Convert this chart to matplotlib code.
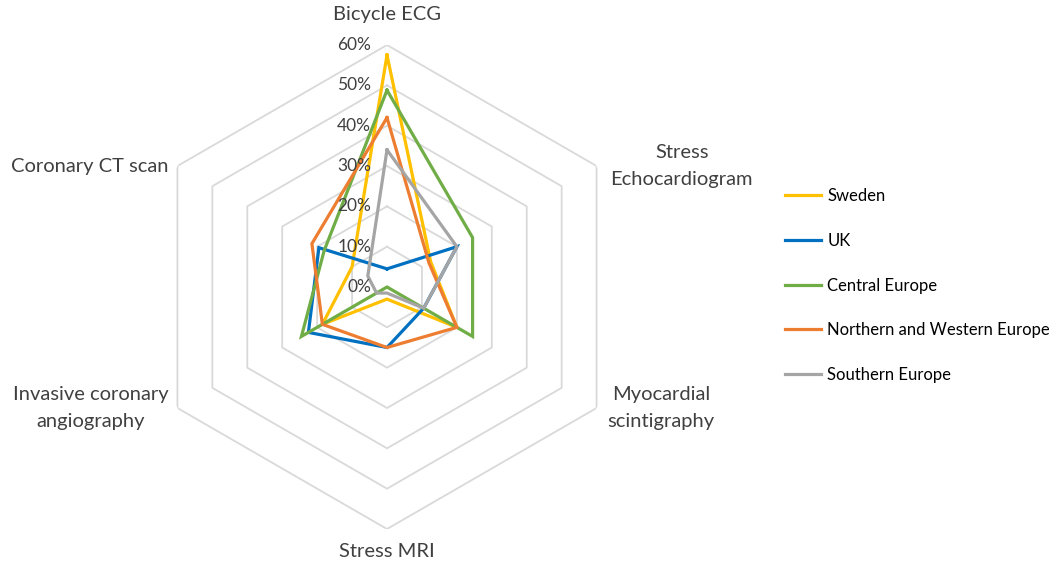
import numpy as np
import matplotlib
matplotlib.use("Agg")
import matplotlib.pyplot as plt

plt.rcParams["font.family"] = ["Lato", "DejaVu Sans"]

# ===================== 数据 =====================
categories = ["Bicycle ECG", "Stress\nEchocardiogram", "Myocardial\nscintigraphy",
              "Stress MRI", "Invasive coronary\nangiography", "Coronary CT scan"]
sweden = [57.5, 12.5, 20, 3, 18.5, 10]
uk = [4.5, 20, 10.5, 15, 22.5, 19.5]
central_europe = [48.8, 24.5, 24.5, 0, 24.5, 18]
north_west_europe = [42, 12, 20, 15, 18.5, 21.5]
southern_europe = [34, 20, 10.5, 1.5, 3, 5.5]
series_names = ["Sweden", "UK", "Central Europe", "Northern and Western Europe", "Southern Europe"]
ring_values = [10, 20, 30, 40, 50, 60]
tick_labels = ["0%", "10%", "20%", "30%", "40%", "50%", "60%"]
# ================================================

colors = ["#FFC000", "#0070C0", "#70AD47", "#ED7D31", "#A5A5A5"]
all_series = [sweden, uk, central_europe, north_west_europe, southern_europe]

n = len(categories)
theta = np.arange(n) * 2 * np.pi / n
theta_closed = np.append(theta, theta[0])

fig = plt.figure(figsize=(10.6, 5.62), dpi=100)
ax = fig.add_axes([0.1368, 0.0587, 0.4566, 0.8612], projection="polar")
ax.set_theta_zero_location("N")
ax.set_theta_direction(-1)
ax.set_ylim(0, 60)
ax.grid(False)
ax.set_xticks([])
ax.set_yticks([])
ax.spines["polar"].set_visible(False)

# 六边形网格
for r in ring_values:
    ax.plot(theta_closed, [r] * (n + 1), color="#D9D9D9", lw=1.3, zorder=1)

# 数据线
lines = []
for vals, name, c in zip(all_series, series_names, colors):
    ln, = ax.plot(theta_closed, vals + [vals[0]], color=c, lw=2.3, label=name, zorder=3,
                  solid_joinstyle="miter")
    lines.append(ln)

# 刻度标签
for i, lab in enumerate(tick_labels):
    ax.annotate(lab, xy=(0, i * 10), xytext=(-16, 0), textcoords="offset pixels",
                ha="right", va="center", fontsize=12.5, color="#404040", zorder=4)

# 类别标签
offsets = [(0, 31, "center"), (14, 0, "left"), (11, 0, "left"),
           (0, -22, "center"), (-9, 0, "right"), (-9, 0, "right")]
for t, lab, (dx, dy, ha) in zip(theta, categories, offsets):
    ax.annotate(lab, xy=(t, 60), xytext=(dx, dy), textcoords="offset pixels",
                ha=ha, va="center", multialignment="center", fontsize=14.5,
                color="#404040", linespacing=1.7)

fig.legend(handles=lines, loc="upper left", bbox_to_anchor=(0.734, 0.677), frameon=False,
           fontsize=12, handlelength=2.2, handletextpad=0.35, labelspacing=1.72,
           borderaxespad=0)

fig.savefig("out.png", dpi=100)
plt.close(fig)
